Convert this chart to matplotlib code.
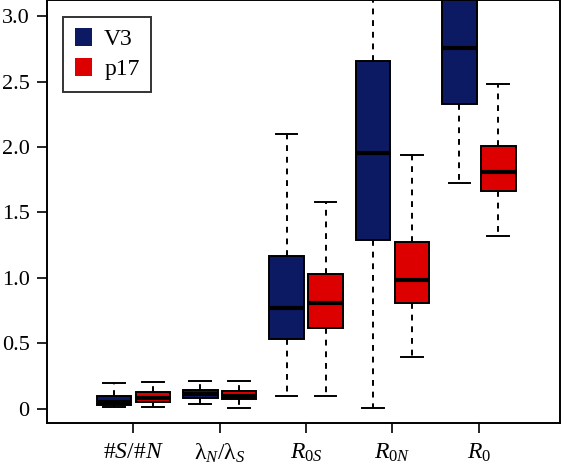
import matplotlib
matplotlib.use('Agg')
import matplotlib.pyplot as plt
from matplotlib.patches import Patch

plt.rcParams['font.family'] = 'Liberation Serif'
plt.rcParams['mathtext.fontset'] = 'custom'
plt.rcParams['mathtext.rm'] = 'Liberation Serif'
plt.rcParams['mathtext.it'] = 'Liberation Serif:italic'
plt.rcParams['mathtext.bf'] = 'Liberation Serif:bold'

# ---- data ----
labels = ['#$S$/#$N$', 'λ$_{N}$/λ$_{S}$', '$R_{0S}$', '$R_{0N}$', '$R_{0}$']
# whislo, q1, med, q3, whishi
v3_stats = [
    [0.011, 0.026, 0.055, 0.099, 0.198],
    [0.034, 0.082, 0.115, 0.145, 0.214],
    [0.099, 0.534, 0.771, 1.168, 2.097],
    [0.003, 1.290, 1.954, 2.657, 3.600],
    [1.723, 2.326, 2.759, 3.300, 4.000],
]
p17_stats = [
    [0.013, 0.053, 0.085, 0.130, 0.206],
    [0.003, 0.074, 0.100, 0.137, 0.209],
    [0.095, 0.614, 0.812, 1.031, 1.578],
    [0.395, 0.809, 0.985, 1.275, 1.939],
    [1.321, 1.662, 1.812, 2.008, 2.481],
]
series = [('V3', v3_stats, '#0c1a63', -0.225), ('p17', p17_stats, '#dc0000', 0.225)]

fig = plt.figure(figsize=(5.62, 4.73), dpi=100)
ax = fig.add_axes([0.0836, 0.105, 0.9128, 0.894])

def to_dicts(rows):
    return [dict(whislo=r[0], q1=r[1], med=r[2], q3=r[3], whishi=r[4], fliers=[])
            for r in rows]

handles = []
for name, rows, col, off in series:
    pos = [i + 1 + off for i in range(len(rows))]
    ax.bxp(to_dicts(rows), positions=pos, widths=0.40, patch_artist=True,
           showfliers=False,
           boxprops=dict(facecolor=col, edgecolor='black', linewidth=1.4),
           medianprops=dict(color='black', linewidth=3),
           whiskerprops=dict(color='black', linestyle=(0, (3, 3)), linewidth=1.4),
           capprops=dict(color='black', linewidth=1.4),
           capwidths=0.25)
    handles.append(Patch(facecolor=col, edgecolor='none', label=name))

ax.set_xlim(0, 5.94)
ax.set_ylim(-0.111, 3.12)
ax.set_xticks(range(1, 6))
ax.set_xticklabels(labels, fontsize=17)
ax.set_yticks([0, 0.5, 1.0, 1.5, 2.0, 2.5, 3.0])
ax.set_yticklabels(['0', '0.5', '1.0', '1.5', '2.0', '2.5', '3.0'], fontsize=16)
ax.tick_params(direction='out', length=7.5, width=1.2)
ax.tick_params(axis='y', pad=5)
ax.tick_params(axis='x', pad=6)
for s in ax.spines.values():
    s.set_linewidth(1.4)

leg = ax.legend(handles=handles, loc='upper left', bbox_to_anchor=(0.031, 0.962),
                borderaxespad=0, fontsize=17, frameon=True, fancybox=False,
                edgecolor='black', handlelength=0.75, handleheight=0.75,
                borderpad=0.5, labelspacing=0.35, handletextpad=0.5)
leg.get_frame().set_linewidth(1.4)

fig.savefig('out.png', dpi=100)
